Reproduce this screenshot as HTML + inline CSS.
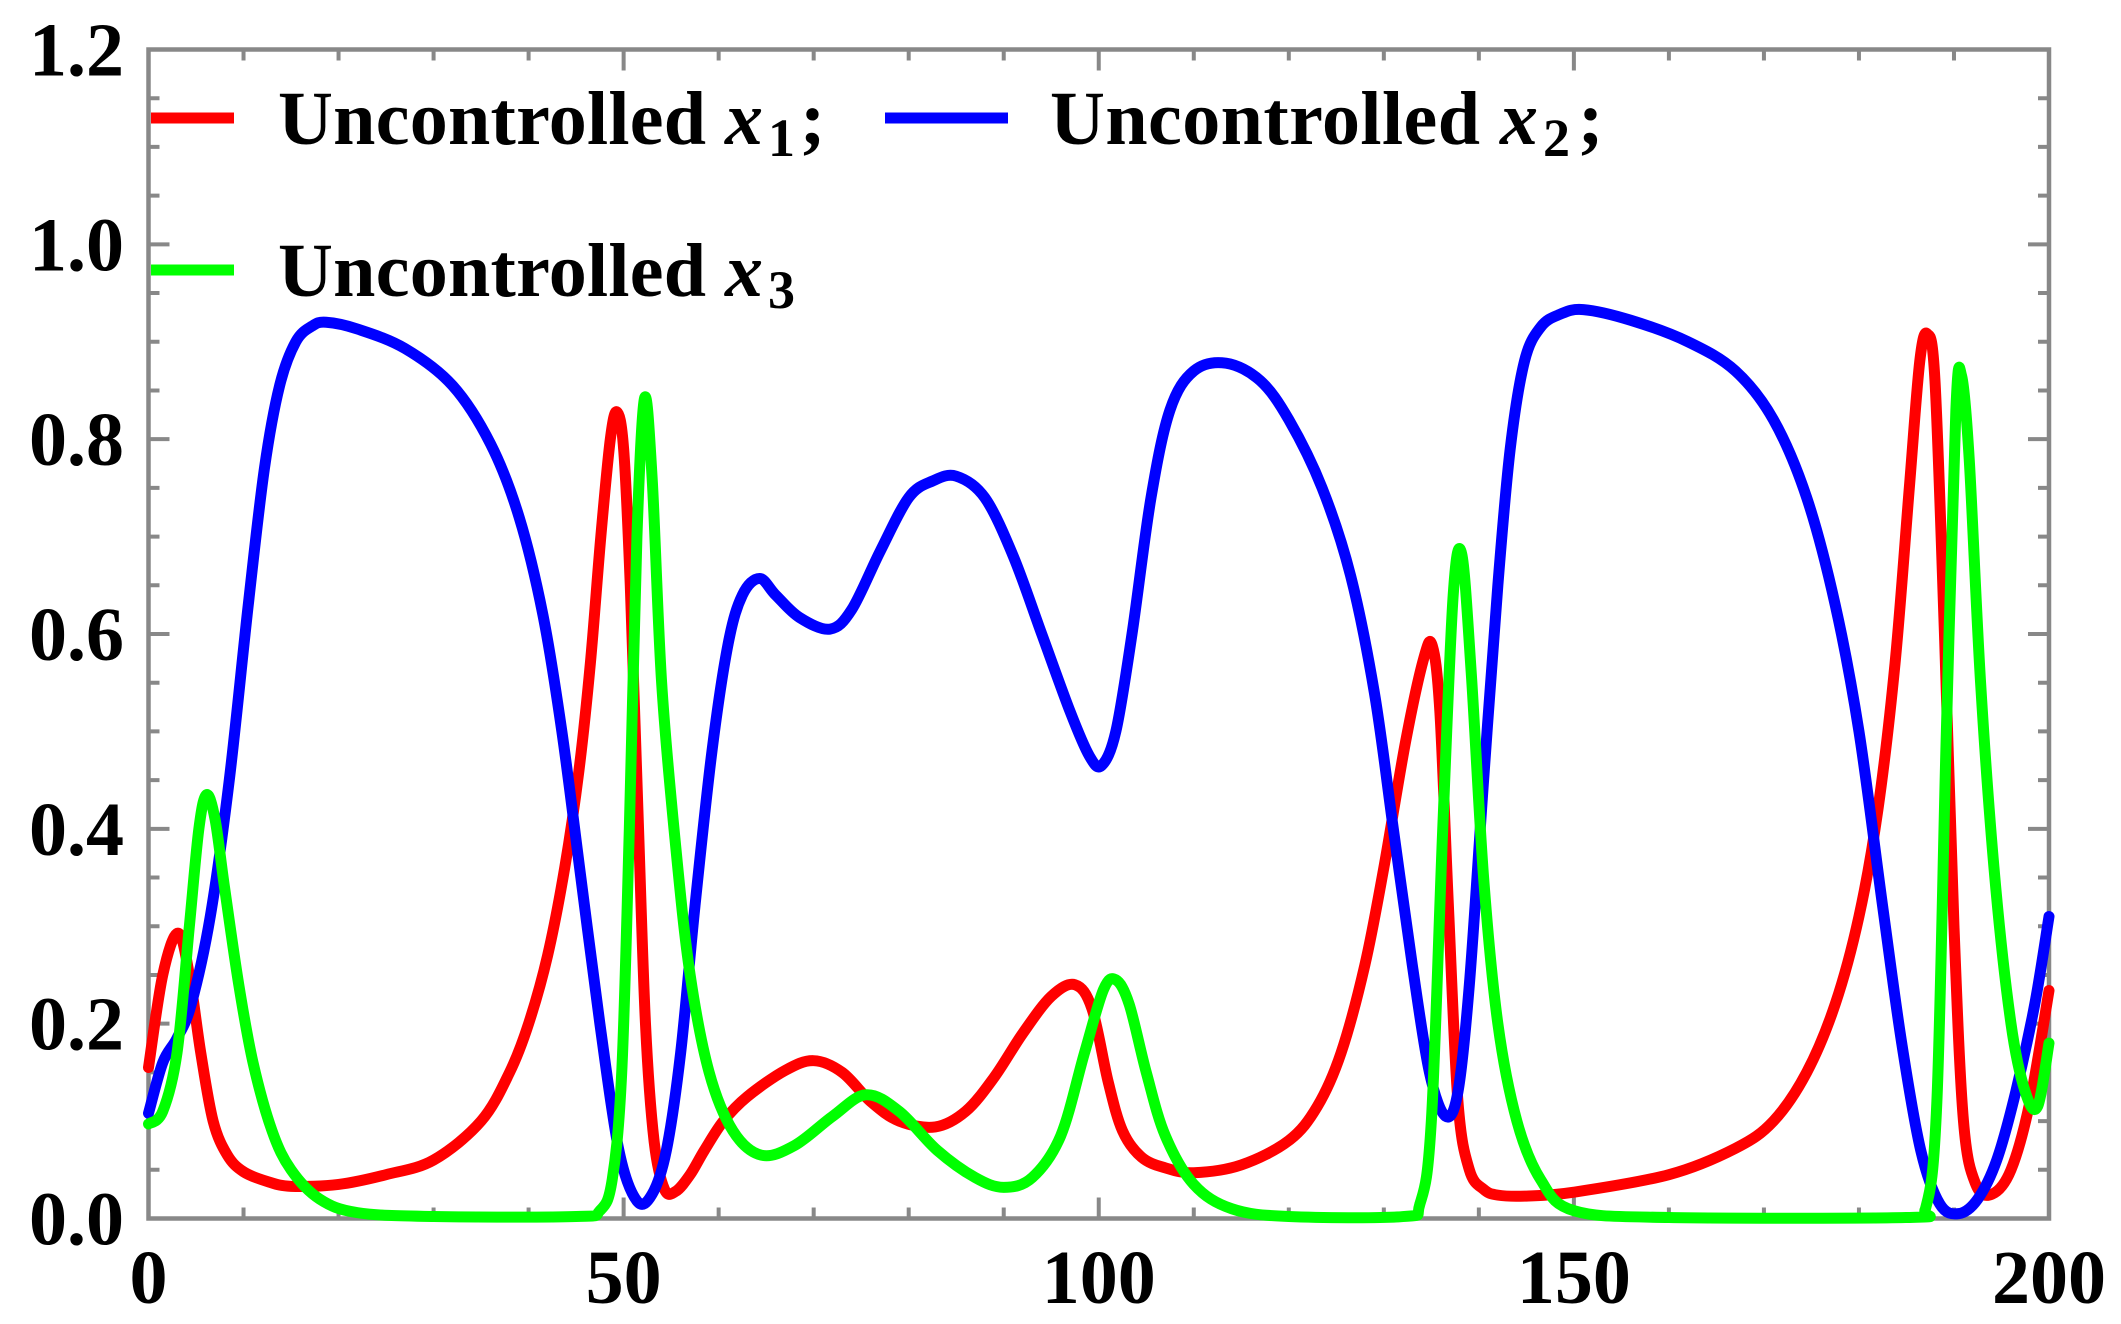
<!DOCTYPE html>
<html><head><meta charset="utf-8"><style>
html,body{margin:0;padding:0;background:#fff;}
svg{display:block;}
text{font-family:"Liberation Serif",serif;font-weight:bold;fill:#000;}
</style></head><body>
<svg id="s" width="2121" height="1324" viewBox="0 0 2121 1324" xmlns="http://www.w3.org/2000/svg">
<g id="ticks" stroke="#888" stroke-width="4" fill="none"></g>
<rect x="148.5" y="49.5" width="1900.5" height="1169" fill="none" stroke="#888" stroke-width="4.5"/>
<g id="curves" fill="none" stroke-width="11" stroke-linejoin="round" stroke-linecap="round"></g>
<g id="labels" font-size="76"></g>
<line x1="151" y1="118" x2="234" y2="118" stroke="#f00" stroke-width="11"/>
<line x1="885" y1="118" x2="1008" y2="118" stroke="#00f" stroke-width="11"/>
<line x1="151" y1="270" x2="234" y2="270" stroke="#0f0" stroke-width="11"/>
<text x="278" y="144" font-size="76" textLength="428" lengthAdjust="spacing">Uncontrolled</text>
<text x="725" y="144" font-size="76" font-style="italic">x</text><text x="768" y="156" font-size="54">1</text><text x="800" y="144" font-size="76">;</text>
<text x="1050" y="144" font-size="76" textLength="430" lengthAdjust="spacing">Uncontrolled</text>
<text x="1500" y="144" font-size="76" font-style="italic">x</text><text x="1543" y="156" font-size="54">2</text><text x="1578" y="144" font-size="76">;</text>
<text x="278" y="296" font-size="76" textLength="428" lengthAdjust="spacing">Uncontrolled</text>
<text x="725" y="296" font-size="76" font-style="italic">x</text><text x="768" y="308" font-size="54">3</text>
</svg>
<script>
var X0=148.5,X1=2049,Y0=1218.5,Y1=49.5;
function px(t){return X0+(X1-X0)*t/200;}
function py(v){return Y0-(Y0-Y1)*v/1.2;}
var tk=document.getElementById('ticks'),d='';
for(var t=0;t<=200;t+=10){var x=px(t),L=(t%50==0)?21:11;d+='M'+x+' '+Y0+'v'+(-L)+'M'+x+' '+Y1+'v'+L;}
for(var i=0;i<=24;i++){var v=i*0.05,y=py(v),L=(i%4==0)?21:11;d+='M'+X0+' '+y+'h'+L+'M'+X1+' '+y+'h'+(-L);}
tk.innerHTML='<path d="'+d+'"/>';
var lb='';
['0.0','0.2','0.4','0.6','0.8','1.0','1.2'].forEach(function(s,i){lb+='<text x="124" y="'+(py(i*0.2)+26)+'" text-anchor="end">'+s+'</text>';});
[0,50,100,150,200].forEach(function(t){lb+='<text x="'+px(t)+'" y="1303" text-anchor="middle">'+t+'</text>';});
document.getElementById('labels').innerHTML=lb;
var red=[[0,0.155],[1.5,0.25],[3.1,0.293],[4.3,0.25],[5.5,0.17],[6.8,0.1],[8.3,0.065],[10,0.048],[12.5,0.038],[15,0.033],[20,0.035],[25,0.045],[30,0.06],[35,0.1],[38,0.15],[40,0.2],[42,0.27],[43.8,0.36],[45.3,0.46],[46.5,0.57],[47.6,0.7],[48.6,0.8],[49.3,0.828],[50,0.79],[50.7,0.65],[51.5,0.42],[52.3,0.2],[53.2,0.08],[54.3,0.03],[55.5,0.028],[57,0.045],[58.5,0.07],[60.5,0.1],[63,0.125],[67,0.152],[70,0.162],[73,0.15],[76,0.12],[79,0.1],[82.8,0.094],[86,0.11],[89,0.145],[92,0.19],[95,0.228],[97.5,0.24],[99.3,0.215],[101,0.14],[102.5,0.09],[104.5,0.063],[107,0.052],[110,0.047],[115,0.055],[120,0.08],[123,0.115],[125.5,0.17],[128,0.26],[130,0.36],[132.3,0.49],[134.2,0.575],[135.1,0.588],[135.9,0.52],[136.8,0.32],[137.8,0.12],[139,0.05],[140.5,0.03],[142,0.024],[145,0.023],[150,0.027],[160,0.045],[167,0.072],[171,0.1],[174.5,0.15],[177.5,0.22],[180,0.31],[182,0.42],[183.8,0.57],[185.3,0.75],[186.4,0.88],[187.2,0.908],[188,0.86],[189,0.6],[190,0.3],[191,0.1],[192.3,0.035],[194,0.025],[196,0.05],[198,0.12],[200,0.234]];
var blue=[[0,0.108],[1.5,0.16],[3,0.185],[4.5,0.22],[6.5,0.31],[8.5,0.45],[10.5,0.63],[12.2,0.77],[13.8,0.855],[15.5,0.9],[17.2,0.916],[18.7,0.92],[22,0.913],[27,0.893],[32,0.855],[36,0.795],[39,0.72],[41.5,0.62],[43.5,0.5],[45.5,0.35],[47.5,0.2],[49.5,0.07],[51.4,0.018],[53,0.025],[54.5,0.07],[56,0.17],[57.5,0.32],[59.3,0.48],[61,0.59],[62.5,0.64],[64.3,0.657],[66,0.64],[68.5,0.617],[71.7,0.605],[74,0.625],[77,0.685],[80,0.74],[82.5,0.757],[85,0.762],[88,0.74],[91,0.68],[94,0.6],[97,0.52],[99,0.475],[100.3,0.465],[101.8,0.5],[103.5,0.6],[105.5,0.74],[107.5,0.83],[110,0.87],[113.4,0.878],[117,0.86],[120,0.82],[123.5,0.75],[126.5,0.66],[129,0.54],[131,0.4],[133,0.26],[134.8,0.15],[136.5,0.105],[137.8,0.13],[139,0.24],[140.5,0.45],[142,0.65],[143.3,0.79],[144.8,0.88],[146.5,0.915],[148.5,0.928],[151,0.933],[156,0.922],[162,0.9],[167,0.87],[171,0.82],[174.5,0.74],[177.5,0.63],[180,0.5],[182.5,0.32],[184.5,0.18],[186.5,0.07],[188.5,0.015],[190.5,0.005],[192.5,0.02],[194.5,0.06],[196.5,0.13],[198.5,0.22],[200,0.31]];
var green=[[0,0.097],[1.5,0.11],[3,0.17],[4.3,0.3],[5.3,0.4],[6.1,0.435],[7,0.41],[8,0.34],[9.5,0.24],[11,0.16],[13,0.09],[15,0.05],[18,0.02],[22,0.006],[30,0.002],[45,0.002],[47.5,0.008],[48.8,0.04],[49.8,0.15],[50.6,0.4],[51.4,0.7],[52.2,0.842],[53,0.76],[54,0.55],[55.5,0.38],[57,0.25],[59,0.15],[61.5,0.09],[64.5,0.065],[68,0.075],[72,0.105],[75.5,0.127],[79,0.11],[83,0.07],[87,0.042],[90,0.032],[93,0.042],[96,0.085],[98.5,0.17],[100.5,0.235],[101.8,0.245],[103.2,0.22],[105,0.15],[107,0.085],[110,0.035],[114,0.01],[120,0.002],[132,0.002],[133.8,0.015],[135,0.1],[136.2,0.4],[137.3,0.64],[138.2,0.682],[139.2,0.56],[140.5,0.35],[142,0.2],[144,0.1],[146.5,0.04],[150,0.008],[160,0.001],[185,0.001],[187,0.01],[188.2,0.12],[189.2,0.5],[190.2,0.83],[190.8,0.865],[191.6,0.78],[192.8,0.55],[194.3,0.35],[196,0.2],[197.5,0.13],[198.8,0.115],[200,0.18]];
function path(a){var P=a.map(function(p){return [px(p[0]),py(p[1])];});var d='M'+P[0][0]+' '+P[0][1];
for(var i=0;i<P.length-1;i++){var p0=P[Math.max(0,i-1)],p1=P[i],p2=P[i+1],p3=P[Math.min(P.length-1,i+2)];
var c1x=p1[0]+(p2[0]-p0[0])/6,c1y=p1[1]+(p2[1]-p0[1])/6,c2x=p2[0]-(p3[0]-p1[0])/6,c2y=p2[1]-(p3[1]-p1[1])/6;
c1y=Math.min(c1y,Y0);c2y=Math.min(c2y,Y0);
d+='C'+c1x+' '+c1y+' '+c2x+' '+c2y+' '+p2[0]+' '+p2[1];}return d;}
document.getElementById('curves').innerHTML='<path stroke="#f00" d="'+path(red)+'"/><path stroke="#00f" d="'+path(blue)+'"/><path stroke="#0f0" d="'+path(green)+'"/>';
</script>
</body></html>
